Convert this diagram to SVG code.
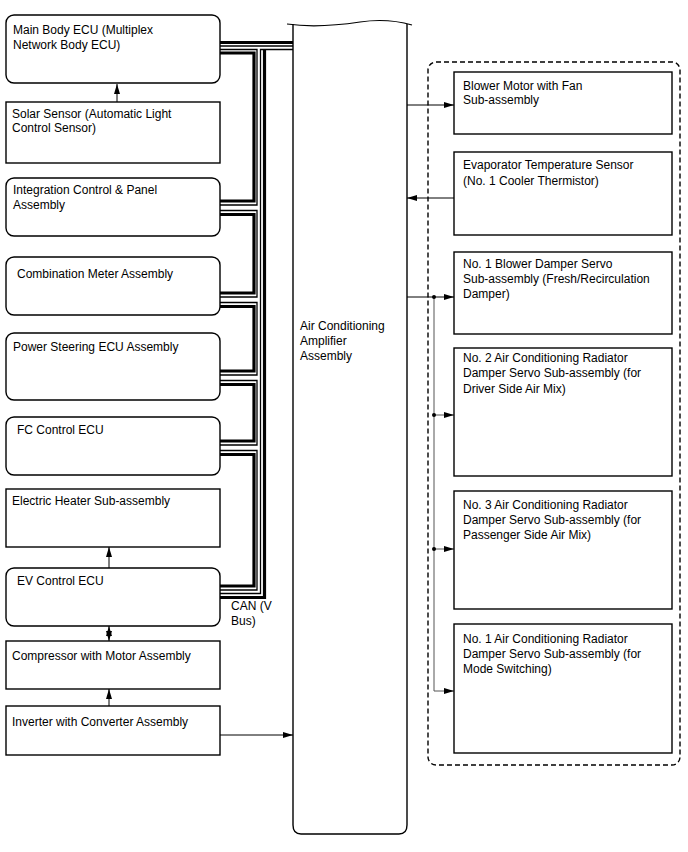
<svg xmlns="http://www.w3.org/2000/svg" width="688" height="852" viewBox="0 0 688 852">
<defs>
<style>
.box{fill:#fff;stroke:#000;stroke-width:1.4}
.t{font-family:"Liberation Sans",Arial,sans-serif;font-size:12px;fill:#000}
.ln{fill:none;stroke:#000;stroke-width:1}
.br{fill:none;stroke:#555;stroke-width:1}
.thk{fill:none;stroke:#000;stroke-width:3.2;stroke-linejoin:miter}
.thn{fill:none;stroke:#000;stroke-width:1.3;stroke-linejoin:miter}
.dash{fill:none;stroke:#000;stroke-width:1.4;stroke-dasharray:5,3}
</style>
<marker id="arr" viewBox="0 0 10 6" refX="10" refY="3" markerWidth="10" markerHeight="6" markerUnits="userSpaceOnUse" orient="auto-start-reverse"><path d="M0,0 L10,3 L0,6 z" fill="#000"/></marker>
</defs>
<rect width="688" height="852" fill="#fff"/>

<g id="connectors">
<!-- CAN bus -->
<path class="thk" d="M220,42.5 H293"/>
<path class="thn" d="M220,46 H293"/>
<path class="thn" d="M293,49.5 H260.5 V593.5 H220"/>
<path class="thk" d="M264.5,49.5 V597.5 H220"/>
<path class="thn" d="M220,49.5 H257 V205 H220"/>
<path class="thk" d="M220,53 H254 V201 H220"/>
<path class="thn" d="M220,210.5 H257 V297 H220"/>
<path class="thk" d="M220,214.5 H254 V293 H220"/>
<path class="thn" d="M220,302.5 H257 V375 H220"/>
<path class="thk" d="M220,306.5 H254 V371 H220"/>
<path class="thn" d="M220,380.5 H257 V445 H220"/>
<path class="thk" d="M220,384.5 H254 V441 H220"/>
<path class="thn" d="M220,450.5 H257 V590 H220"/>
<path class="thk" d="M220,454.5 H254 V586 H220"/>
<!-- left arrows -->
<path class="ln" d="M117,102 V84" marker-end="url(#arr)"/>
<path class="ln" d="M109,568 V547" marker-end="url(#arr)"/>
<path class="ln" d="M109,626 V641" marker-start="url(#arr)" marker-end="url(#arr)"/>
<path class="ln" d="M109,706 V689" marker-end="url(#arr)"/>
<path class="ln" d="M220,735 H293" marker-end="url(#arr)"/>
<!-- right arrows -->
<path class="ln" d="M407,105 H454" marker-end="url(#arr)"/>
<path class="ln" d="M454,198 H407" marker-end="url(#arr)"/>
<path class="ln" d="M407,297 H454" marker-end="url(#arr)"/>
<path class="br" d="M434,297 V691 H454" marker-end="url(#arr)"/>
<path class="br" d="M434,415 H454" marker-end="url(#arr)"/>
<path class="br" d="M434,549 H454" marker-end="url(#arr)"/>
<circle cx="434" cy="297" r="2" fill="#000"/>
<circle cx="434" cy="415" r="2" fill="#000"/>
<circle cx="434" cy="549" r="2" fill="#000"/>
<text class="t" x="231" y="610">CAN (V</text>
<text class="t" x="231" y="625">Bus)</text>
</g>

<g id="amp">
<path class="box" d="M293,24 V825 Q293,834 301,834 H399 Q407,834 407,825 V24"/>
<path fill="none" stroke="#000" stroke-width="1.2" d="M287,24 C315,28 340,25 360,22 C380,19 398,21 412,25"/>
<text class="t" x="300" y="330">Air Conditioning</text>
<text class="t" x="300" y="345">Amplifier</text>
<text class="t" x="300" y="360">Assembly</text>
</g>

<rect id="group-dashed" class="dash" x="428" y="62" width="252" height="703" rx="8"/>

<g id="main-body-ecu"><rect class="box" x="6" y="15" width="214" height="68" rx="8"/>
<text class="t" x="13" y="34">Main Body ECU (Multiplex</text><text class="t" x="13" y="49">Network Body ECU)</text></g>
<g id="solar-sensor"><rect class="box" x="6" y="102" width="214" height="61"/>
<text class="t" x="12" y="118">Solar Sensor (Automatic Light</text><text class="t" x="12" y="132">Control Sensor)</text></g>
<g id="integration"><rect class="box" x="6" y="178" width="214" height="58" rx="8"/>
<text class="t" x="13" y="194">Integration Control &amp; Panel</text><text class="t" x="13" y="209">Assembly</text></g>
<g id="combination"><rect class="box" x="6" y="257" width="214" height="58" rx="8"/>
<text class="t" x="17" y="278">Combination Meter Assembly</text></g>
<g id="power-steering"><rect class="box" x="6" y="333" width="214" height="67" rx="8"/>
<text class="t" x="13" y="351">Power Steering ECU Assembly</text></g>
<g id="fc-control"><rect class="box" x="6" y="417" width="214" height="58" rx="8"/>
<text class="t" x="17" y="434">FC Control ECU</text></g>
<g id="electric-heater"><rect class="box" x="6" y="489" width="214" height="58"/>
<text class="t" x="12" y="505">Electric Heater Sub-assembly</text></g>
<g id="ev-control"><rect class="box" x="6" y="568" width="214" height="58" rx="8"/>
<text class="t" x="17" y="585">EV Control ECU</text></g>
<g id="compressor"><rect class="box" x="6" y="641" width="214" height="48"/>
<text class="t" x="12" y="660">Compressor with Motor Assembly</text></g>
<g id="inverter"><rect class="box" x="6" y="706" width="214" height="49"/>
<text class="t" x="12" y="726">Inverter with Converter Assembly</text></g>

<g id="blower"><rect class="box" x="454" y="72" width="218" height="62"/>
<text class="t" x="463" y="90">Blower Motor with Fan</text><text class="t" x="463" y="104">Sub-assembly</text></g>
<g id="evap"><rect class="box" x="454" y="152" width="218" height="83"/>
<text class="t" x="463" y="169">Evaporator Temperature Sensor</text><text class="t" x="463" y="185">(No. 1 Cooler Thermistor)</text></g>
<g id="damper1"><rect class="box" x="454" y="252" width="218" height="82"/>
<text class="t" x="463" y="268">No. 1 Blower Damper Servo</text><text class="t" x="463" y="283">Sub-assembly (Fresh/Recirculation</text><text class="t" x="463" y="298">Damper)</text></g>
<g id="damper2"><rect class="box" x="454" y="348" width="218" height="128"/>
<text class="t" x="463" y="362">No. 2 Air Conditioning Radiator</text><text class="t" x="463" y="377">Damper Servo Sub-assembly (for</text><text class="t" x="463" y="393">Driver Side Air Mix)</text></g>
<g id="damper3"><rect class="box" x="454" y="491" width="218" height="118"/>
<text class="t" x="463" y="509">No. 3 Air Conditioning Radiator</text><text class="t" x="463" y="524">Damper Servo Sub-assembly (for</text><text class="t" x="463" y="539">Passenger Side Air Mix)</text></g>
<g id="damper4"><rect class="box" x="454" y="624" width="218" height="129"/>
<text class="t" x="463" y="643">No. 1 Air Conditioning Radiator</text><text class="t" x="463" y="658">Damper Servo Sub-assembly (for</text><text class="t" x="463" y="673">Mode Switching)</text></g>
</svg>
